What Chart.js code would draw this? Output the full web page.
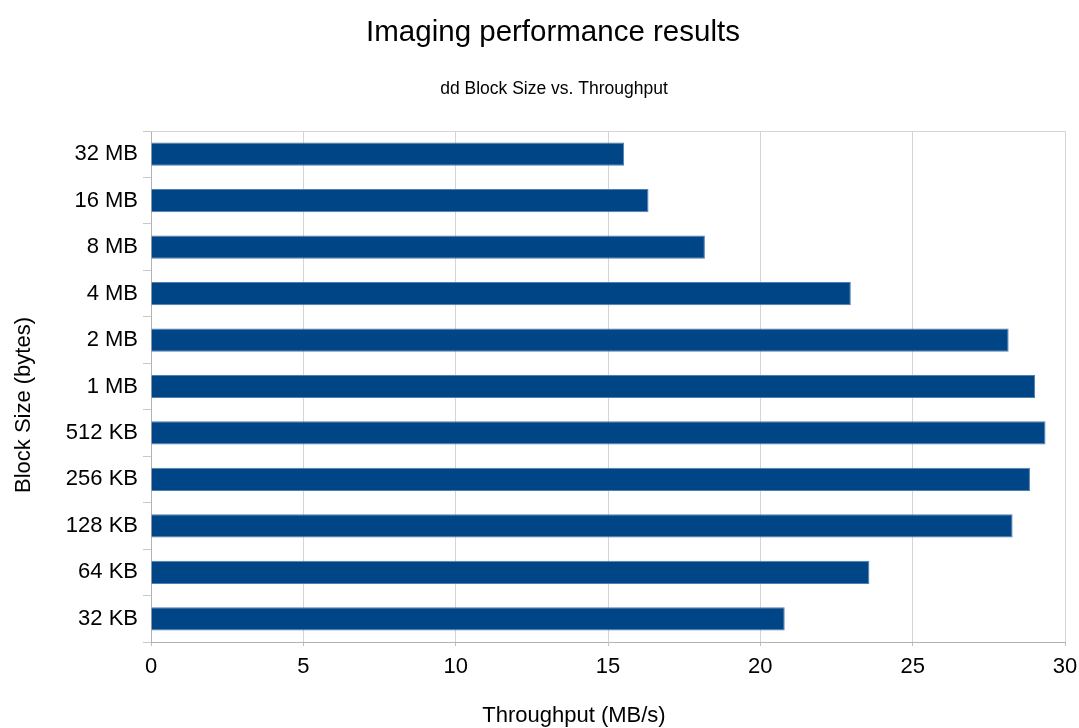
<!DOCTYPE html>
<html>
<head>
<meta charset="utf-8">
<script src="https://cdn.jsdelivr.net/npm/chart.js@4/dist/chart.umd.min.js"></script>
<style>
  html, body { margin: 0; padding: 0; background: #fff; }
  #wrap { width: 1079px; height: 728px; }
</style>
</head>
<body>
<div id="wrap"><canvas id="ddChart"></canvas></div>
<script>
// block sizes, top to bottom as shown
const blockSizes = ['32 MB', '16 MB', '8 MB', '4 MB', '2 MB', '1 MB', '512 KB', '256 KB', '128 KB', '64 KB', '32 KB'];
// throughput in MB/s
const throughput = [15.53, 16.33, 18.18, 22.97, 28.15, 29.02, 29.36, 28.85, 28.28, 23.58, 20.8];
const xTicks = [0, 5, 10, 15, 20, 25, 30];

const chartTitle = 'Imaging performance results';
const chartSubtitle = 'dd Block Size vs. Throughput';
const xTitle = 'Throughput (MB/s)';
const yTitle = 'Block Size (bytes)';

const fontFamily = '"Liberation Sans", Arial, sans-serif';

// titles are drawn by hand so they sit where the original had them
const headings = {
    id: 'headings',
    afterDraw(chart) {
        const ctx = chart.ctx;
        const area = chart.chartArea;
        ctx.save();
        ctx.fillStyle = '#000';
        ctx.textAlign = 'center';
        ctx.textBaseline = 'alphabetic';

        ctx.font = '29.5px ' + fontFamily;
        ctx.fillText(chartTitle, 553, 41);

        ctx.font = '17.5px ' + fontFamily;
        ctx.fillText(chartSubtitle, 554, 94);

        ctx.font = '22px ' + fontFamily;
        ctx.fillText(xTitle, 574, 722);

        ctx.translate(30, 405);
        ctx.rotate(-Math.PI / 2);
        ctx.fillText(yTitle, 0, 0);
        ctx.restore();

        // top edge of the plot frame
        ctx.save();
        ctx.strokeStyle = '#d4d4d4';
        ctx.lineWidth = 1;
        ctx.beginPath();
        ctx.moveTo(area.left, Math.round(area.top) + 0.5);
        ctx.lineTo(area.right, Math.round(area.top) + 0.5);
        ctx.stroke();
        ctx.restore();
    }
};

const ctx = document.getElementById('ddChart').getContext('2d');

new Chart(ctx, {
    type: 'bar',
    data: {
        labels: blockSizes,
        datasets: [{
            label: 'Throughput',
            data: throughput,
            backgroundColor: '#004586',
            borderColor: 'rgba(80,125,180,1)',
            borderWidth: 1,
            barPercentage: 0.5,
            categoryPercentage: 1
        }]
    },
    options: {
        indexAxis: 'y',
        responsive: true,
        maintainAspectRatio: false,
        animation: false,
        layout: {
            padding: { top: 131, right: 14, bottom: 0, left: 0 }
        },
        plugins: {
            legend: { display: false },
            tooltip: { enabled: false }
        },
        scales: {
            x: {
                min: 0,
                max: 30,
                afterBuildTicks: (scale) => {
                    scale.ticks = xTicks.map(v => ({ value: v }));
                },
                afterFit: (scale) => {
                    scale.height = 86;
                    scale.paddingRight = 0;
                    scale.paddingLeft = 0;
                },
                grid: {
                    color: '#d4d4d4',
                    tickLength: 4,
                    tickColor: '#c0c0c0'
                },
                border: { color: '#b3b3b3' },
                ticks: {
                    color: '#000',
                    padding: 8,
                    font: { family: fontFamily, size: 22 }
                }
            },
            y: {
                afterFit: (scale) => { scale.width = 151; },
                grid: {
                    drawOnChartArea: false,
                    offset: true,
                    tickLength: 8,
                    color: '#c8c8c8'
                },
                border: { color: '#b3b3b3' },
                ticks: {
                    color: '#000',
                    padding: 5,
                    font: { family: fontFamily, size: 22 }
                }
            }
        }
    },
    plugins: [headings]
});
</script>
</body>
</html>
